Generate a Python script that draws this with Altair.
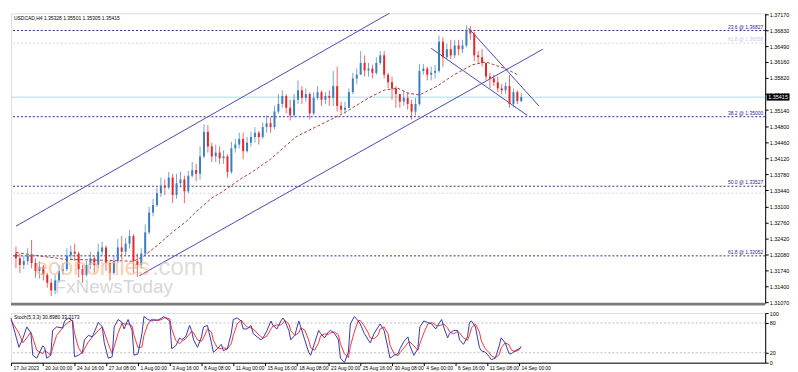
import json
import altair as alt
import pandas as pd

# ---------------- data ----------------
title_text = "USDCAD,H4  1.35328 1.35501 1.35305 1.35415"
stoch_title = "Stoch(5,3,3) 30.8980 33.3173"

first_open = 1.3210
close = [1.3200, 1.3186, 1.3194, 1.3206, 1.3190, 1.3173, 1.3182, 1.3165, 1.3148, 1.3132,
         1.3153, 1.3173, 1.3177, 1.3206, 1.3214, 1.3210, 1.3177, 1.3165, 1.3186, 1.3200,
         1.3186, 1.3214, 1.3223, 1.3190, 1.3169, 1.3194, 1.3223, 1.3214, 1.3231, 1.3247,
         1.3194, 1.3186, 1.3210, 1.3255, 1.3297, 1.3313, 1.3338, 1.3354, 1.3350, 1.3371,
         1.3334, 1.3359, 1.3367, 1.3342, 1.3375, 1.3387, 1.3379, 1.3416, 1.3468, 1.3437,
         1.3416, 1.3424, 1.3412, 1.3416, 1.3383, 1.3433, 1.3441, 1.3453, 1.3427, 1.3445,
         1.3457, 1.3466, 1.3457, 1.3478, 1.3486, 1.3478, 1.3511, 1.3527, 1.3544, 1.3519,
         1.3503, 1.3536, 1.3556, 1.3540, 1.3548, 1.3507, 1.3540, 1.3552, 1.3536, 1.3544,
         1.3540, 1.3565, 1.3523, 1.3515, 1.3519, 1.3552, 1.3581, 1.3589, 1.3614, 1.3598,
         1.3602, 1.3593, 1.3614, 1.3630, 1.3589, 1.3573, 1.3560, 1.3548, 1.3532, 1.3540,
         1.3527, 1.3511, 1.3527, 1.3597, 1.3602, 1.3589, 1.3593, 1.3597, 1.3659, 1.3626,
         1.3643, 1.3630, 1.3651, 1.3643, 1.3651, 1.3684, 1.3676, 1.3630, 1.3626, 1.3614,
         1.3585, 1.3581, 1.3573, 1.3560, 1.3556, 1.3565, 1.3527, 1.3552, 1.3533, 1.35415]
high = [1.3225, 1.3210, 1.3206, 1.3221, 1.3239, 1.3200, 1.3194, 1.3186, 1.3169, 1.3157,
        1.3165, 1.3186, 1.3190, 1.3221, 1.3227, 1.3231, 1.3214, 1.3186, 1.3194, 1.3214,
        1.3206, 1.3231, 1.3235, 1.3227, 1.3194, 1.3206, 1.3241, 1.3247, 1.3243, 1.3260,
        1.3251, 1.3210, 1.3221, 1.3272, 1.3309, 1.3326, 1.3350, 1.3371, 1.3367, 1.3383,
        1.3379, 1.3379, 1.3383, 1.3375, 1.3385, 1.3404, 1.3400, 1.3437, 1.3484, 1.3482,
        1.3445, 1.3441, 1.3437, 1.3429, 1.3420, 1.3447, 1.3453, 1.3466, 1.3466, 1.3457,
        1.3468, 1.3478, 1.3470, 1.3488, 1.3503, 1.3499, 1.3523, 1.3548, 1.3556, 1.3548,
        1.3536, 1.3548, 1.3577, 1.3565, 1.3560, 1.3552, 1.3552, 1.3565, 1.3556, 1.3552,
        1.3556, 1.3597, 1.3606, 1.3532, 1.3532, 1.3560, 1.3593, 1.3602, 1.3639, 1.3630,
        1.3614, 1.3610, 1.3626, 1.3639, 1.3639, 1.3593, 1.3585, 1.3565, 1.3548, 1.3556,
        1.3552, 1.3536, 1.3540, 1.3612, 1.3612, 1.3606, 1.3606, 1.3610, 1.3672, 1.3668,
        1.3655, 1.3663, 1.3663, 1.3663, 1.3663, 1.3694, 1.3692, 1.3680, 1.3639, 1.3643,
        1.3614, 1.3593, 1.3589, 1.3585, 1.3569, 1.3573, 1.3589, 1.3560, 1.3556, 1.35501]
low = [1.3179, 1.3169, 1.3177, 1.3186, 1.3179, 1.3159, 1.3157, 1.3153, 1.3138, 1.3120,
       1.3124, 1.3148, 1.3165, 1.3173, 1.3198, 1.3194, 1.3159, 1.3148, 1.3161, 1.3177,
       1.3169, 1.3179, 1.3206, 1.3173, 1.3153, 1.3165, 1.3190, 1.3198, 1.3206, 1.3221,
       1.3169, 1.3161, 1.3179, 1.3206, 1.3251, 1.3289, 1.3309, 1.3330, 1.3334, 1.3346,
       1.3317, 1.3326, 1.3350, 1.3317, 1.3338, 1.3371, 1.3363, 1.3367, 1.3412, 1.3424,
       1.3404, 1.3404, 1.3400, 1.3400, 1.3371, 1.3379, 1.3424, 1.3433, 1.3410, 1.3424,
       1.3437, 1.3445, 1.3441, 1.3453, 1.3466, 1.3466, 1.3474, 1.3507, 1.3519, 1.3507,
       1.3492, 1.3499, 1.3527, 1.3527, 1.3532, 1.3494, 1.3503, 1.3536, 1.3523, 1.3527,
       1.3523, 1.3523, 1.3511, 1.3507, 1.3507, 1.3519, 1.3548, 1.3569, 1.3589, 1.3585,
       1.3585, 1.3581, 1.3589, 1.3610, 1.3581, 1.3560, 1.3536, 1.3519, 1.3519, 1.3523,
       1.3515, 1.3494, 1.3503, 1.3523, 1.3589, 1.3577, 1.3577, 1.3581, 1.3593, 1.3606,
       1.3622, 1.3622, 1.3625, 1.3630, 1.3635, 1.3647, 1.3663, 1.3618, 1.3614, 1.3606,
       1.3577, 1.3560, 1.3565, 1.3552, 1.3548, 1.3548, 1.3519, 1.3520, 1.3527, 1.35305]

ma_bar = [0, 10, 25, 45, 60, 65, 72, 80, 87, 92, 100, 105, 110, 115, 120, 130, 143, 156,
          168, 180, 188, 195, 200, 206, 215, 223, 233, 240, 250, 256]
ma_val = [1.32123, 1.32061, 1.31979, 1.31958, 1.31938, 1.32041, 1.32267, 1.32556, 1.32782,
          1.32988, 1.33277, 1.33400, 1.33544, 1.33689, 1.33812, 1.34101, 1.34574, 1.34842,
          1.35089, 1.35398, 1.35563, 1.35604, 1.35501, 1.35460, 1.35646, 1.35872, 1.36099,
          1.36161, 1.36016, 1.35893]

tl_bar = [0, 63, 212, 231]
tl_p = [1.3268, 1.3163, 1.3645, 1.3688]
tl_bar2 = [191, 269, 261, 267]
tl_p2 = [1.3720, 1.3643, 1.3503, 1.3523]

fib_price = [1.36827, 1.35000, 1.33527, 1.32052]
fib_label = ["23.6 @ 1.36827", "38.2 @ 1.35000", "50.0 @ 1.33527", "61.8 @ 1.32052"]
faint_price = [1.36558, 1.33380]
faint_label = ["61.8 @ 1.36558", ""]
cur_price = 1.35415

ytick_vals = [1.3717, 1.3683, 1.3649, 1.3616, 1.3582, 1.3548, 1.3514, 1.3480, 1.3446,
              1.3412, 1.3378, 1.3344, 1.3310, 1.3276, 1.3242, 1.3208, 1.3174, 1.3140, 1.3107]

x_labels = ["17 Jul 2023", "20 Jul 00:00", "24 Jul 16:00", "27 Jul 08:00", "1 Aug 00:00",
            "3 Aug 16:00", "8 Aug 08:00", "11 Aug 00:00", "15 Aug 16:00", "18 Aug 08:00",
            "23 Aug 00:00", "25 Aug 16:00", "30 Aug 08:00", "4 Sep 00:00", "6 Sep 16:00",
            "11 Sep 08:00", "14 Sep 00:00"]
x_ticks = [0, 16, 32, 48, 64, 80, 96, 112, 128, 144, 160, 176, 192, 208, 224, 240, 256]

stoch_bar = [0, 4, 6, 8, 10, 11, 13, 16, 17, 18,
             20, 21, 23, 26, 27, 29, 31, 32, 34, 36,
             37, 39, 41, 42, 44, 46, 47, 49, 51, 52,
             54, 56, 57, 59, 61, 62, 64, 66, 67, 69,
             71, 72, 74, 76, 77, 78, 80, 81, 83, 85,
             86, 88, 90, 91, 92, 94, 96, 97, 99, 101,
             102, 104, 106, 107, 109, 111, 112, 114, 116, 117,
             119, 121, 122, 124, 126, 127, 129, 131, 132, 134,
             136, 137, 138, 140, 141, 143, 145, 146, 148, 150,
             151, 153, 155, 156, 158, 160, 161, 163, 165, 166,
             168, 170, 171, 173, 175, 176, 178, 180, 181, 183,
             185, 186, 188, 190, 191, 193, 195, 196, 198, 200,
             201, 203, 205, 206, 208, 210, 212, 214, 215, 217,
             218, 220, 221, 223, 225, 226, 228, 230, 231, 232,
             234, 236, 237, 239, 241, 242, 244, 246, 247, 249,
             251, 252, 254, 256, 257]
stoch_k = [90, 31, 49, 72, 60, 15, 9, 34, 30, 9,
           15, 65, 72, 70, 84, 90, 84, 12, 15, 21,
           46, 55, 52, 62, 81, 72, 40, 9, 12, 72,
           87, 81, 68, 87, 65, 15, 18, 59, 93, 87,
           84, 86, 86, 90, 93, 90, 84, 28, 34, 50,
           46, 52, 75, 65, 46, 31, 52, 72, 75, 40,
           21, 28, 37, 24, 28, 59, 87, 90, 84, 68,
           68, 75, 59, 52, 46, 50, 65, 84, 75, 68,
           84, 90, 84, 65, 46, 55, 84, 72, 46, 21,
           15, 40, 65, 59, 50, 62, 65, 59, 46, 9,
           0, 21, 78, 93, 84, 78, 59, 46, 40, 59,
           72, 78, 65, 28, 9, 15, 18, 28, 43, 52,
           34, 15, 28, 72, 84, 81, 78, 68, 75, 87,
           72, 50, 59, 65, 65, 46, 37, 52, 81, 84,
           72, 31, 24, 21, 12, 6, 9, 34, 50, 40,
           18, 18, 24, 28, 30.9]
stoch_d = [85, 60, 40, 50, 62, 50, 25, 18, 25, 22,
           15, 30, 55, 70, 75, 82, 86, 60, 30, 18,
           28, 42, 52, 56, 65, 72, 62, 38, 18, 32,
           60, 80, 78, 78, 74, 55, 30, 32, 55, 78,
           88, 86, 85, 87, 90, 91, 88, 68, 45, 38,
           43, 48, 58, 64, 60, 46, 43, 50, 68, 62,
           45, 30, 28, 30, 28, 38, 55, 78, 86, 80,
           72, 70, 68, 60, 52, 49, 54, 68, 74, 76,
           76, 80, 85, 78, 64, 55, 60, 70, 66, 46,
           30, 25, 40, 54, 58, 57, 60, 62, 56, 38,
           18, 10, 33, 62, 85, 85, 74, 60, 50, 48,
           56, 68, 72, 58, 35, 18, 14, 20, 30, 40,
           42, 34, 25, 38, 60, 78, 81, 76, 74, 76,
           78, 70, 62, 58, 63, 60, 50, 45, 55, 70,
           78, 62, 44, 28, 20, 14, 10, 16, 30, 40,
           36, 26, 22, 26, 33.3]
stoch_levels = [20, 80]
stoch_ticks = [0, 20, 80, 100]

# ---------------- layout / style ----------------
W, H1, H2 = 760, 292, 50
FONT = "Liberation Sans"
BULL, BEAR = "#3C7DC0", "#E52727"
NAVY = "#2B2B95"
CHAN = "#4A4AB5"

xscale = alt.Scale(domain=[0, 380], nice=False, zero=False)
yscale = alt.Scale(domain=[1.3105, 1.3719], nice=False, zero=False)
sscale = alt.Scale(domain=[0, 100], nice=False, zero=False)

yaxis = alt.Axis(orient="right", values=ytick_vals, format=".5f", title=None, grid=False,
                 labelFontSize=5.5, labelFont=FONT, labelColor="black", tickColor="black",
                 domainColor="black", tickSize=3, labelPadding=1, labelOverlap=False,
                 labelFlush=False)
saxis = alt.Axis(orient="right", values=stoch_ticks, format="d", title=None, grid=False,
                 labelFontSize=5.5, labelFont=FONT, labelColor="black", tickColor="black",
                 domainColor="black", tickSize=3, labelPadding=1, labelOverlap=False,
                 labelFlush=False)
xaxis = alt.Axis(values=x_ticks, title=None, grid=False,
                 labelExpr=json.dumps(x_labels) + "[round(datum.value / 16)]",
                 labelAlign="left", labelFontSize=5, labelFont=FONT, labelColor="black",
                 tickColor="black", domainColor="black", tickSize=3, labelPadding=0,
                 labelOffset=2, labelOverlap=False, labelFlush=False)


def X(f):
    return alt.X(f, type="quantitative", scale=xscale, axis=None)


def Y(f):
    return alt.Y(f, type="quantitative", scale=yscale, axis=yaxis)


# ---------------- main panel ----------------
cdf = pd.DataFrame({
    "bar": [2 * i for i in range(len(close))],
    "open": [first_open] + close[:-1],
    "close": close, "high": high, "low": low,
})
ccolor = alt.condition("datum.close >= datum.open", alt.value(BULL), alt.value(BEAR))
wicks = alt.Chart(cdf).mark_rule(strokeWidth=1, opacity=0.7).encode(
    x=X("bar"), y=Y("low"), y2="high", color=ccolor)
bodies = alt.Chart(cdf).mark_bar(size=2).encode(
    x=X("bar"), y=Y("open"), y2="close", color=ccolor)

fdf = pd.DataFrame({"p": fib_price, "t": fib_label})
fib_rules = alt.Chart(fdf).mark_rule(color=NAVY, strokeWidth=1, strokeDash=[2, 2]).encode(y=Y("p"))
fib_text = alt.Chart(fdf).mark_text(align="right", baseline="bottom", dy=-1, fontSize=5,
                                    font=FONT, color=NAVY).encode(
    x=alt.value(W - 2), y=Y("p"), text="t:N")
ffdf = pd.DataFrame({"p": faint_price, "t": faint_label})
faint_rules = alt.Chart(ffdf).mark_rule(color="#D4D4EC", strokeWidth=1, strokeDash=[2, 2]).encode(y=Y("p"))
faint_text = alt.Chart(ffdf).mark_text(align="right", baseline="bottom", dy=-1, fontSize=5,
                                       font=FONT, color="#C8C8E6").encode(
    x=alt.value(W - 2), y=Y("p"), text="t:N")

cdf1 = pd.DataFrame({"p": [cur_price], "t": ["%.5f" % cur_price]})
cur_line = alt.Chart(cdf1).mark_rule(color="#A9DDE6", strokeWidth=1).encode(y=Y("p"))
cur_box = alt.Chart(cdf1).mark_tick(orient="horizontal", thickness=7, size=23, color="black",
                                    opacity=1, clip=False).encode(x=alt.value(W + 13), y=Y("p"))
cur_text = alt.Chart(cdf1).mark_text(color="white", fontSize=5.5, font=FONT, align="center",
                                     baseline="middle").encode(
    x=alt.value(W + 13), y=Y("p"), text="t:N")

madf = pd.DataFrame({"bar": ma_bar, "p": ma_val})
ma_line = alt.Chart(madf).mark_line(color="#A8443C", strokeWidth=1, strokeDash=[3, 2]).encode(
    x=X("bar"), y=Y("p"))

tdf = pd.DataFrame({"b": tl_bar, "p": tl_p, "b2": tl_bar2, "p2": tl_p2})
trend = alt.Chart(tdf).mark_rule(color=CHAN, strokeWidth=1, clip=True).encode(
    x=X("b"), y=Y("p"), x2="b2", y2="p2")

tt = alt.Chart(pd.DataFrame({"t": [title_text]})).mark_text(
    align="left", baseline="top", fontSize=5, font=FONT, color="black").encode(
    x=alt.value(3), y=alt.value(3), text="t:N")

wm1 = alt.Chart(pd.DataFrame({"t": ["economies"]})).mark_text(
    align="left", baseline="alphabetic", fontSize=24, font=FONT, color="#F6B98C",
    opacity=0.65).encode(x=alt.value(24), y=alt.value(264), text="t:N")
wm2 = alt.Chart(pd.DataFrame({"t": [".com"]})).mark_text(
    align="left", baseline="alphabetic", fontSize=24, font=FONT, color="#C8C8C8",
    opacity=0.6).encode(x=alt.value(142), y=alt.value(264), text="t:N")
wm3 = alt.Chart(pd.DataFrame({"t": ["FxNewsToday"]})).mark_text(
    align="left", baseline="alphabetic", fontSize=19, font=FONT, color="#BDBDBD",
    opacity=0.6).encode(x=alt.value(44), y=alt.value(282), text="t:N")

sep = alt.Chart(pd.DataFrame({"a": [0]})).mark_rule(color="#7A7A7A", strokeWidth=3, clip=False).encode(
    x=alt.value(0), x2=alt.value(W), y=alt.value(H1 + 1))

main = alt.layer(
    fib_rules, faint_rules, cur_line, ma_line, trend, wicks, bodies,
    wm1, wm2, wm3, fib_text, faint_text, tt, cur_box, cur_text, sep
).properties(width=W, height=H1)

# ---------------- stochastic panel ----------------
sdf = pd.DataFrame({"bar": stoch_bar, "K": stoch_k, "D": stoch_d})


def XS(f):
    return alt.X(f, type="quantitative", scale=xscale, axis=xaxis)


def YS(f):
    return alt.Y(f, type="quantitative", scale=sscale, axis=saxis)


lv = alt.Chart(pd.DataFrame({"v": stoch_levels})).mark_rule(
    color="#BDBDBD", strokeWidth=1, strokeDash=[2, 2]).encode(y=YS("v"))
d_line = alt.Chart(sdf).mark_line(color="#FF3535", strokeWidth=1).encode(x=XS("bar"), y=YS("D"))
k_line = alt.Chart(sdf).mark_line(color="#3838AC", strokeWidth=1).encode(x=XS("bar"), y=YS("K"))
st = alt.Chart(pd.DataFrame({"t": [stoch_title]})).mark_text(
    align="left", baseline="top", fontSize=5, font=FONT, color="black").encode(
    x=alt.value(3), y=alt.value(2), text="t:N")

stoch = alt.layer(lv, d_line, k_line, st).properties(width=W, height=H2)

chart = alt.vconcat(main, stoch, spacing=3).properties(
    padding={"left": 0, "top": 2, "right": 0, "bottom": 0}
).configure_view(stroke="#444444", strokeWidth=1).configure(background="white")

chart.save("out.html", embed_options={"renderer": "svg", "actions": False})
